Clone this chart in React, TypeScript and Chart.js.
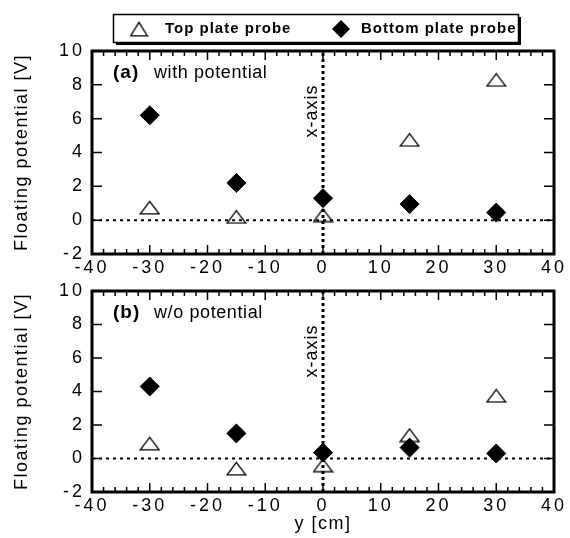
import React, { useEffect, useRef } from 'react';
import { Chart, registerables } from 'chart.js';

Chart.register(...registerables);

const FONT = "'Liberation Sans', Arial, Helvetica, sans-serif";

// ---- data ----
const probePositions = [-30, -15, 0, 15, 30];
const topProbeWithPotential = [0.75, 0.2, 0.3, 4.75, 8.3];
const bottomProbeWithPotential = [6.2, 2.2, 1.3, 0.95, 0.45];
const topProbeWithoutPotential = [0.9, -0.6, -0.4, 1.4, 3.75];
const bottomProbeWithoutPotential = [4.3, 1.5, 0.35, 0.65, 0.3];

const seriesLabels = ['Top plate probe', 'Bottom plate probe'];
const panelTags = ['(a)', '(b)'];
const panelNotes = ['with potential', 'w/o potential'];
const axisNote = 'x-axis';
const xTitle = 'y [cm]';
const yTitle = 'Floating potential [V]';

const xRange = [-40, 40];
const xStep = 10;
const xMinorDivisions = 5;
const yRange = [-2, 10];
const yStep = 2;
const zeroLineX = [xRange[0], xRange[1]];
const zeroLineY = [yRange[0], yRange[1]];

function makeTriangle(w: number, h: number, lw: number) {
  const c = document.createElement('canvas');
  c.width = w;
  c.height = h;
  const g = c.getContext('2d')!;
  g.lineWidth = lw;
  g.strokeStyle = '#000';
  g.lineJoin = 'miter';
  g.beginPath();
  g.moveTo(w / 2, lw);
  g.lineTo(w - lw / 2 - 0.5, h - lw / 2 - 0.5);
  g.lineTo(lw / 2 + 0.5, h - lw / 2 - 0.5);
  g.closePath();
  g.stroke();
  return c;
}

function decorPlugin(idx: number, withLegend: boolean, legendTri: HTMLCanvasElement) {
  return {
    id: 'panelDecor' + idx,
    beforeDraw(chart: any) {
      (chart.ctx as any).letterSpacing = '1.5px';
    },
    afterDatasetsDraw(chart: any) {
      const ctx = chart.ctx as any;
      const a = chart.chartArea;
      const xs = chart.scales.x;
      const ys = chart.scales.y;
      ctx.save();
      ctx.letterSpacing = '0px';
      ctx.strokeStyle = '#000';
      ctx.lineWidth = 1.5;
      ctx.beginPath();
      const majors = xs.ticks.map((t: any) => t.value);
      for (let i = 0; i < majors.length; i++) {
        const px = xs.getPixelForValue(majors[i]);
        ctx.moveTo(px, a.bottom);
        ctx.lineTo(px, a.bottom - 9);
        ctx.moveTo(px, a.top);
        ctx.lineTo(px, a.top + 9);
        if (i < majors.length - 1) {
          for (let k = 1; k < xMinorDivisions; k++) {
            const v = majors[i] + ((majors[i + 1] - majors[i]) * k) / xMinorDivisions;
            const p = xs.getPixelForValue(v);
            ctx.moveTo(p, a.bottom);
            ctx.lineTo(p, a.bottom - 5);
            ctx.moveTo(p, a.top);
            ctx.lineTo(p, a.top + 5);
          }
        }
      }
      ys.ticks.forEach((t: any) => {
        const py = ys.getPixelForValue(t.value);
        ctx.moveTo(a.left, py);
        ctx.lineTo(a.left + 10, py);
        ctx.moveTo(a.right, py);
        ctx.lineTo(a.right - 10, py);
      });
      ctx.stroke();
      ctx.lineWidth = 3;
      ctx.strokeRect(a.left, a.top, a.right - a.left, a.bottom - a.top);

      ctx.fillStyle = '#000';
      ctx.textBaseline = 'middle';
      ctx.textAlign = 'left';
      ctx.letterSpacing = '1px';
      ctx.font = `bold 19px ${FONT}`;
      ctx.fillText(panelTags[idx], a.left + 21, a.top + 22);
      ctx.letterSpacing = '0.6px';
      ctx.font = `18px ${FONT}`;
      ctx.fillText(panelNotes[idx], a.left + 62, a.top + 22);

      ctx.letterSpacing = '1px';
      ctx.translate(xs.getPixelForValue(0) - 11, a.top + 60);
      ctx.rotate(-Math.PI / 2);
      ctx.textAlign = 'center';
      ctx.fillText(axisNote, 0, 0);
      ctx.restore();
      ctx.letterSpacing = '3px';
    },
    afterDraw(chart: any) {
      const ctx = chart.ctx as any;
      ctx.letterSpacing = '0px';
      if (!withLegend) return;
      ctx.save();
      ctx.fillStyle = '#000';
      ctx.strokeStyle = '#000';
      ctx.fillRect(116, 42, 405, 3);
      ctx.fillRect(518, 17, 3, 28);
      ctx.lineWidth = 1.5;
      ctx.strokeRect(113.5, 14.5, 405, 28);
      ctx.drawImage(legendTri, 139 - legendTri.width / 2, 29 - legendTri.height / 2);
      const dx = 341, dy = 29, r = 9;
      ctx.beginPath();
      ctx.moveTo(dx - r, dy);
      ctx.lineTo(dx, dy - r);
      ctx.lineTo(dx + r, dy);
      ctx.lineTo(dx, dy + r);
      ctx.closePath();
      ctx.fill();
      ctx.font = `bold 15px ${FONT}`;
      ctx.letterSpacing = '1px';
      ctx.textBaseline = 'middle';
      ctx.textAlign = 'left';
      ctx.fillText(seriesLabels[0], 165, 29);
      ctx.fillText(seriesLabels[1], 361, 29);
      ctx.restore();
    },
  };
}

function makeConfig(
  idx: number,
  topVals: number[],
  bottomVals: number[],
  padTop: number,
  xAxisH: number,
  showXTitle: boolean,
  withLegend: boolean
) {
  const tri = makeTriangle(21, 15, 1.3);
  const legendTri = makeTriangle(19, 16, 1.3);
  const tickFont = { family: FONT, size: 18 };
  return {
    type: 'scatter' as const,
    data: {
      datasets: [
        {
          label: seriesLabels[0],
          data: probePositions.map((x, i) => ({ x, y: topVals[i] })),
          pointStyle: tri,
          pointRadius: 10,
          borderColor: '#000',
          backgroundColor: 'rgba(0,0,0,0)',
          order: 1,
        },
        {
          label: seriesLabels[1],
          data: probePositions.map((x, i) => ({ x, y: bottomVals[i] })),
          pointStyle: 'rectRot',
          pointRadius: 9.5,
          borderWidth: 1,
          borderColor: '#000',
          backgroundColor: '#000',
          order: 0,
        },
        {
          label: 'zero',
          data: zeroLineX.map((x) => ({ x, y: 0 })),
          showLine: true,
          borderColor: '#000',
          borderWidth: 2,
          borderDash: [3, 4],
          pointRadius: 0,
          order: 2,
        },
        {
          label: 'x-axis line',
          data: zeroLineY.map((y) => ({ x: 0, y })),
          showLine: true,
          borderColor: '#000',
          borderWidth: 3,
          borderDash: [3, 3],
          pointRadius: 0,
          order: 2,
        },
      ],
    },
    options: {
      animation: false as const,
      responsive: false,
      maintainAspectRatio: false,
      devicePixelRatio: 1,
      layout: { padding: { top: padTop, right: 16, bottom: 0, left: 0 } },
      plugins: { legend: { display: false }, tooltip: { enabled: false } },
      events: [],
      scales: {
        x: {
          type: 'linear' as const,
          min: xRange[0],
          max: xRange[1],
          ticks: { stepSize: xStep, font: tickFont, color: '#000', padding: 3, z: 1, maxRotation: 0, autoSkip: false },
          grid: { display: false, drawTicks: false },
          border: { display: false },
          title: {
            display: showXTitle,
            text: xTitle,
            color: '#000',
            font: { family: FONT, size: 18 },
            padding: { top: 0, bottom: 3 },
          },
          afterFit: (s: any) => {
            s.height = xAxisH;
            s.paddingLeft = 0;
            s.paddingRight = 0;
          },
        },
        y: {
          type: 'linear' as const,
          min: yRange[0],
          max: yRange[1],
          ticks: { stepSize: yStep, font: tickFont, color: '#000', padding: 7, z: 1 },
          grid: { display: false, drawTicks: false },
          border: { display: false },
          title: {
            display: true,
            text: yTitle,
            color: '#000',
            font: { family: FONT, size: 18 },
            padding: { top: 11, bottom: 0 },
          },
          afterFit: (s: any) => {
            s.width = 92;
            s.paddingTop = 0;
            s.paddingBottom = 0;
          },
        },
      },
    },
    plugins: [decorPlugin(idx, withLegend, legendTri)],
  };
}

export default function App() {
  const ref1 = useRef<HTMLCanvasElement>(null);
  const ref2 = useRef<HTMLCanvasElement>(null);

  useEffect(() => {
    const c1 = new Chart(
      ref1.current!,
      makeConfig(0, topProbeWithPotential, bottomProbeWithPotential, 51, 26, false, true) as any
    );
    const c2 = new Chart(
      ref2.current!,
      makeConfig(1, topProbeWithoutPotential, bottomProbeWithoutPotential, 9, 46, true, false) as any
    );
    return () => {
      c1.destroy();
      c2.destroy();
    };
  }, []);

  return (
    <div style={{ position: 'absolute', left: 0, top: 0, width: 570, height: 538, background: '#fff' }}>
      <canvas ref={ref1} width={570} height={280} style={{ position: 'absolute', left: 0, top: 0 }} />
      <canvas ref={ref2} width={570} height={258} style={{ position: 'absolute', left: 0, top: 280 }} />
    </div>
  );
}
